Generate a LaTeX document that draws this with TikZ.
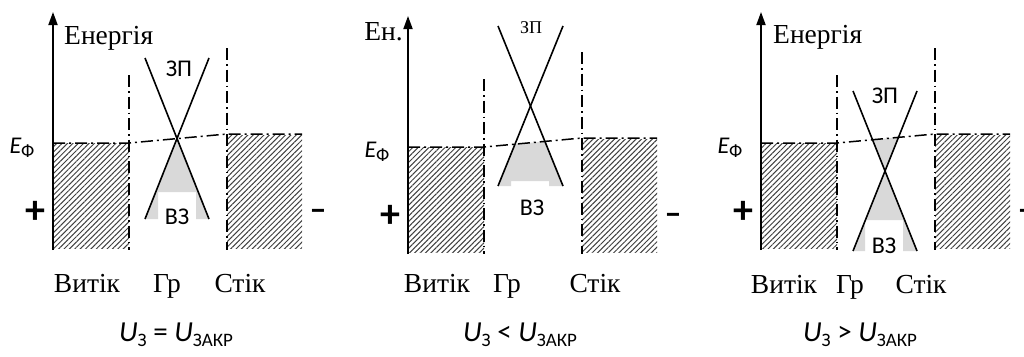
\documentclass[tikz,border=0pt]{standalone}
\usepackage{fontspec}
\setmainfont{Liberation Serif}
\newfontfamily\sansfont{Carlito}
\usetikzlibrary{arrows.meta,patterns.meta}
\tikzset{
  hatchblock/.style={pattern={Lines[angle=45,distance=3.8pt,line width=1pt]},pattern color=black!75},
  zoneline/.style={line width=1.6pt},
  fermiline/.style={line width=1.5pt,dash pattern=on 12pt off 4pt on 2pt off 4pt},
  bordline/.style={line width=1.1pt,dash pattern=on 12pt off 4pt on 1.5pt off 4pt},
  axisline/.style={line width=1.8pt,-{Triangle[length=13pt,width=9pt]}},
  gapfill/.style={fill=black!15},
  lbl/.style={font=\fontsize{27.5}{30}\selectfont,inner sep=0pt},
  blbl/.style={font=\sansfont\fontsize{24}{26}\selectfont,inner sep=0pt},
  sign/.style={font=\sansfont\bfseries\fontsize{40}{42}\selectfont,inner sep=0pt},
  capt/.style={font=\sansfont\fontsize{29}{31}\selectfont,inner sep=0pt,anchor=base},
}
\newcommand{\lowidx}[1]{\raisebox{-0.2em}{\fontsize{19}{19}\selectfont #1}}
% #1 name prefix, #2 #3 #4 x of the bottom labels, #5 their baseline
\newcommand{\bandframe}[5]{%
  \fill[hatchblock] (53,143) rectangle (129,248);
  \fill[hatchblock] (227,135) rectangle (302,248);
  \draw[bordline] (129,75) -- (129,250);
  \draw[bordline] (227,48) -- (227,250);
  \draw[fermiline] (53,143) -- (129,143) -- (227,134) -- (302,134);
  \coordinate (#1bot) at (53,250);
  \coordinate (#1top) at (53,12);
  \draw[axisline] (#1bot) -- (#1top);
  \node[blbl,font=\sansfont\itshape\fontsize{24}{26}\selectfont,anchor=base] (#1ef) at (22,153) {E\lowidx{\upshape Ф}};
  \node[sign] (#1plus) at (35,212) {+};
  \node[sign,font=\sansfont\bfseries\fontsize{34}{36}\selectfont] (#1minus) at (318,215) {–};
  \node[lbl,anchor=base] (#1src) at (#2,#5) {Витік};
  \node[lbl,anchor=base] (#1gate) at (#3,#5) {Гр};
  \node[lbl,anchor=base] (#1drn) at (#4,#5) {Стік};
}
\newcommand{\belowfermi}{(0,143) -- (129,143) -- (227,134) -- (320,134) -- (320,300) -- (0,300) -- cycle}

\begin{document}
\begin{tikzpicture}[x=1pt,y=-1pt]
  \useasboundingbox (0,0) rectangle (1024,356);

  % U_Z = U_ZAKR
  \begin{scope}
    \fill[gapfill] (177,138.5) -- (145,219) -- (158,219) -- (158,192) -- (196,192)
      -- (196,219) -- (209,219) -- cycle;
    \bandframe{a}{87}{167}{240}{292.5}
    \draw[zoneline] (145,58) -- (209,219);
    \draw[zoneline] (209,58) -- (145,219);
    \node[lbl,anchor=base west] (aen) at (64,44.3) {Енергія};
    \node[blbl] (acb) at (179,69) {ЗП};
    \node[blbl] (avb) at (177,217) {ВЗ};
    \node[capt] (acap) at (176,341) {\textit{U}\lowidx{З} = \textit{U}\lowidx{ЗАКР}};
  \end{scope}

  % U_Z < U_ZAKR
  \begin{scope}[xshift=355pt,yshift=-4pt]
    \begin{scope}
      \clip \belowfermi;
      \fill[gapfill] (175.5,102) -- (143,182) -- (156,182) -- (156,177) -- (194,177)
        -- (194,182) -- (208,182) -- cycle;
    \end{scope}
    \bandframe{b}{82}{152}{240}{288}
    \draw[zoneline] (143,22) -- (208,182);
    \draw[zoneline] (208,22) -- (143,182);
    \node[lbl,anchor=base east] (ben) at (48,36) {Ен.};
    \node[lbl,font=\fontsize{18}{20}\selectfont] (bcb) at (176,24) {ЗП};
    \node[blbl] (bvb) at (177,204) {ВЗ};
    \node[capt] (bcap) at (165,337) {\textit{U}\lowidx{З} < \textit{U}\lowidx{ЗАКР}};
  \end{scope}

  % U_Z > U_ZAKR
  \begin{scope}[xshift=708pt]
    \begin{scope}
      \clip \belowfermi;
      \fill[gapfill] (177,171) -- (145,91) -- (209,91) -- cycle;
    \end{scope}
    \fill[gapfill] (177,171) -- (145,251) -- (157,251) -- (157,220) -- (195,220)
      -- (195,251) -- (209,251) -- cycle;
    \bandframe{c}{76}{142}{213}{293}
    \draw[zoneline] (145,91) -- (209,251);
    \draw[zoneline] (209,91) -- (145,251);
    \node[lbl,anchor=base west] (cen) at (65,43.3) {Енергія};
    \node[blbl] (ccb) at (177,96) {ЗП};
    \node[blbl] (cvb) at (176,246) {ВЗ};
    \node[capt] (ccap) at (152,341) {\textit{U}\lowidx{З} > \textit{U}\lowidx{ЗАКР}};
  \end{scope}
\end{tikzpicture}
\end{document}
